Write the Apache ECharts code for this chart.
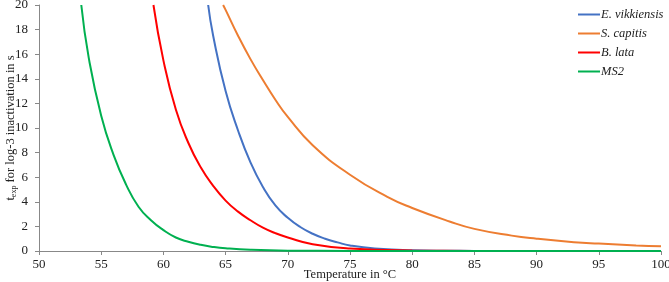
<!DOCTYPE html>
<html>
<head>
<meta charset="utf-8">
<script src="https://cdn.jsdelivr.net/npm/echarts@6/dist/echarts.min.js"></script>
<style>
  html, body { margin: 0; padding: 0; background: #fff; }
  #chart { width: 669px; height: 282px; }
</style>
</head>
<body>
<div id="chart"></div>
<script>
// 各菌株的失活时间曲线 (温度 °C, 时间 s)
var seriesNames = ['E. vikkiensis', 'S. capitis', 'B. lata', 'MS2'];
var colors = ['#4472C4', '#ED7D31', '#FF0000', '#00B050'];

var vikkiensis = [[63.6, 20], [64, 17.5], [65, 13], [66, 9.8], [67, 7.2], [68, 5.2], [69, 3.7],
    [70, 2.7], [71, 1.95], [72, 1.4], [73, 1.0], [74, 0.7], [75, 0.45], [77, 0.2], [80, 0.06],
    [85, 0.01], [90, 0], [100, 0]];
var capitis = [[64.8, 20], [65, 19.6], [66, 17.5], [67, 15.6], [68, 13.9], [69, 12.3], [70, 10.9],
    [72, 8.6], [75, 6.2], [78, 4.4], [80, 3.5], [83, 2.4], [85, 1.8], [88, 1.25], [90, 1.0],
    [93, 0.72], [95, 0.6], [98, 0.45], [100, 0.38]];
var lata = [[59.2, 20], [60, 15.5], [61, 11.5], [62, 8.8], [63, 6.8], [64, 5.3], [65, 4.1],
    [66, 3.2], [67, 2.5], [68, 1.9], [69, 1.45], [70, 1.1], [72, 0.55], [75, 0.2], [80, 0.04],
    [85, 0.01], [90, 0], [100, 0]];
var ms2 = [[53.4, 20], [54, 15.7], [55, 11], [56, 7.8], [57, 5.4], [58, 3.6], [59, 2.5], [60, 1.7],
    [61, 1.1], [62, 0.75], [63, 0.5], [64, 0.33], [65, 0.22], [67, 0.1], [70, 0.03], [75, 0.01],
    [80, 0], [100, 0]];

var allData = [vikkiensis, capitis, lata, ms2];

var myChart = echarts.init(document.getElementById('chart'));
var serif = '"Liberation Serif", "DejaVu Serif", serif';

var series = seriesNames.map(function (name, i) {
    return {
        name: name,
        type: 'line',
        smooth: true,
        showSymbol: false,
        lineStyle: { width: 2, color: colors[i] },
        itemStyle: { color: colors[i] },
        data: allData[i]
    };
});

var option = {
    animation: false,
    textStyle: { fontFamily: serif },
    grid: { left: 39, right: 8, top: 5, bottom: 31, containLabel: false, outerBoundsMode: 'none' },
    legend: {
        orient: 'vertical',
        left: 573,
        top: 3,
        itemWidth: 22,
        itemHeight: 2,
        itemGap: 6,
        icon: 'rect',
        textStyle: { fontFamily: serif, fontSize: 12.5, fontStyle: 'italic', color: '#222', padding: [0, 0, 0, -4] },
        data: seriesNames
    },
    xAxis: {
        type: 'value',
        min: 50,
        max: 100,
        interval: 5,
        name: 'Temperature in °C',
        nameLocation: 'middle',
        nameGap: 17,
        nameMoveOverlap: false,
        nameTextStyle: { fontFamily: serif, fontSize: 12.5, color: '#222' },
        axisLine: { lineStyle: { color: '#888' } },
        axisTick: { length: 4, lineStyle: { color: '#888' } },
        axisLabel: { fontFamily: serif, fontSize: 13, color: '#222', margin: 7 },
        splitLine: { show: false }
    },
    yAxis: {
        type: 'value',
        min: 0,
        max: 20,
        interval: 2,
        name: '{a|t}{b|exp}{a| for log-3 inactivation in s}',
        nameLocation: 'middle',
        nameGap: 21,
        nameMoveOverlap: false,
        nameTextStyle: {
            fontFamily: serif,
            color: '#222',
            rich: {
                a: { fontFamily: serif, fontSize: 12.5, color: '#222' },
                b: { fontFamily: serif, fontSize: 8, color: '#222', verticalAlign: 'bottom', padding: [6, 0, 0, 0] }
            }
        },
        axisLine: { show: true, lineStyle: { color: '#888' } },
        axisTick: { show: true, length: 4, lineStyle: { color: '#888' } },
        axisLabel: { fontFamily: serif, fontSize: 13, color: '#222', margin: 11 },
        splitLine: { show: false }
    },
    series: series
};

myChart.setOption(option);
</script>
</body>
</html>
